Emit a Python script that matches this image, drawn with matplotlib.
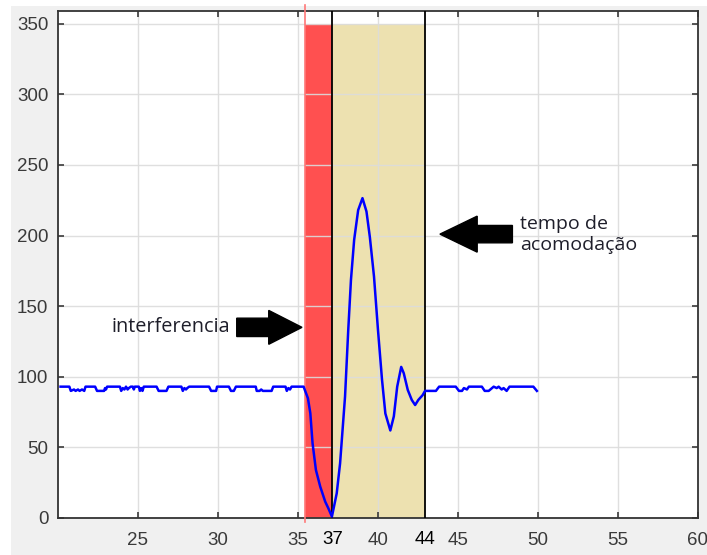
import matplotlib
matplotlib.use('Agg')
import matplotlib.pyplot as plt
from matplotlib.patches import Rectangle, FancyArrow

# signal: time (s) and value
t_before = [20.16, 20.71, 20.80, 21.00, 21.10, 21.25, 21.35, 21.50, 21.64, 21.72,
            22.32, 22.44, 22.88, 22.94, 23.00, 23.07, 23.87, 23.95, 24.05, 24.15,
            24.25, 24.35, 24.43, 24.55, 24.68, 24.74, 24.80, 25.05, 25.12, 25.20,
            25.28, 25.36, 26.16, 26.29, 26.78, 26.90, 27.71, 27.80, 27.90, 28.00,
            28.08, 28.20, 29.44, 29.57, 29.88, 29.94, 30.68, 30.81, 30.99, 31.12,
            32.36, 32.42, 32.60, 32.70, 32.80, 33.35, 33.45, 34.22, 34.30, 34.40,
            34.50, 34.60]
v_before = [93, 93, 90, 91, 90, 91, 90, 91, 90, 93,
            93, 90, 90, 92, 91, 93, 93, 90, 92, 91,
            93, 91, 92, 93, 93, 91, 93, 93, 90, 92,
            90, 93, 93, 90, 90, 93, 93, 90, 92, 91,
            92, 93, 93, 90, 90, 93, 93, 90, 90, 93,
            93, 90, 90, 91, 90, 90, 93, 93, 90, 92,
            91, 93]

t_resp = [35.35, 35.62, 35.77, 35.91, 36.12, 36.39, 36.70, 36.90, 37.12, 37.42,
          37.63, 37.94, 38.14, 38.31, 38.51, 38.76, 39.03, 39.28, 39.49, 39.75,
          40.00, 40.25, 40.46, 40.77, 40.99, 41.20, 41.45, 41.61, 41.86, 42.11,
          42.32, 42.52, 42.79, 42.94]
v_resp = [93, 84.8, 74.2, 52.9, 34, 22.2, 11.6, 6.8, 1, 17.5,
          38.7, 86, 133, 168.6, 197, 218, 226.5, 217, 199, 171,
          133, 98, 74, 62, 72, 93, 107, 102.5, 90.7, 83.6,
          80, 83.6, 87, 90]

t_after = [43.62, 43.82, 44.86, 45.06, 45.25, 45.37, 45.56, 45.68, 46.49, 46.67,
           46.92, 47.23, 47.42, 47.54, 47.73, 47.85, 48.04, 48.22, 49.71, 49.93]
v_after = [90, 93, 93, 90, 90, 92, 91, 93, 93, 90,
           90, 93, 92, 93, 91, 92, 90, 93, 93, 90]

t = t_before + t_resp + t_after
v = v_before + v_resp + v_after

# marked intervals
t_interf = 35.42
t_start = 37.15
t_end = 42.94
band_top = 350

xticks = [25, 30, 35, 40, 45, 50, 55, 60]
yticks = [0, 50, 100, 150, 200, 250, 300, 350]

plt.rcParams['font.family'] = ['Liberation Sans', 'DejaVu Sans']

fig = plt.figure(figsize=(7.07, 5.55), dpi=100)
fig.patch.set_facecolor('white')
# grey window background like the screenshot
fig.patches.append(Rectangle((11/707, 0), 1, 1 - 6/555, transform=fig.transFigure,
                             facecolor='#f0f0f0', edgecolor='none', zorder=-10))
ax = fig.add_axes([58/707, 1 - 518/555, 640/707, 507/555])
ax.set_facecolor('white')

ax.add_patch(Rectangle((t_interf, 0), t_start - t_interf, band_top,
                       facecolor='#ff5050', edgecolor='none', zorder=0.5))
ax.add_patch(Rectangle((t_start, 0), t_end - t_start, band_top,
                       facecolor='#ede1b0', edgecolor='none', zorder=0.5))

ax.plot([t_interf, t_interf], [-3, 363], color='#ff7878', lw=1.2, clip_on=False, zorder=3)
ax.axvline(t_start, color='black', lw=1.3, zorder=3)
ax.axvline(t_end, color='black', lw=1.3, zorder=3)

ax.plot(t, v, color='#0000ff', lw=1.8, zorder=4)

ax.set_xlim(20, 60)
ax.set_ylim(0, 359)
ax.set_xticks(xticks)
ax.set_yticks(yticks)
ax.set_axisbelow('line')
ax.grid(True, color='#dcdcdc', lw=1.0, alpha=0.9)
ax.tick_params(direction='in', length=4, width=1.2, top=True, right=True,
               labelsize=13.5, colors='#3a3a3a', pad=7)
ax.tick_params(axis='x', pad=10)
for s in ax.spines.values():
    s.set_color('#333333')
    s.set_linewidth(1.3)

# extra labels for the interval limits
ax.text(t_start, -9, '37', ha='center', va='top', fontsize=13.5, color='black')
ax.text(t_end, -9, '44', ha='center', va='top', fontsize=13.5, color='black')

# block arrows and notes
ax.add_patch(FancyArrow(31.17, 135, 4.08, 0, width=13, head_width=24, head_length=2.08,
                        length_includes_head=True, color='black', zorder=5))
ax.add_patch(FancyArrow(48.4, 201, -4.53, 0, width=12.3, head_width=25.5, head_length=2.33,
                        length_includes_head=True, color='black', zorder=5))
ax.text(23.32, 135.5, 'interferencia', ha='left', va='center', fontsize=14.3,
        family=['Open Sans', 'DejaVu Sans'], color='#1e1e2a', zorder=6)
ax.text(48.88, 201, 'tempo de\nacomodação', ha='left', va='center', fontsize=14,
        family=['Open Sans', 'DejaVu Sans'], color='#1e1e2a', linespacing=1.2, zorder=6)

fig.savefig('out.png', dpi=100)
